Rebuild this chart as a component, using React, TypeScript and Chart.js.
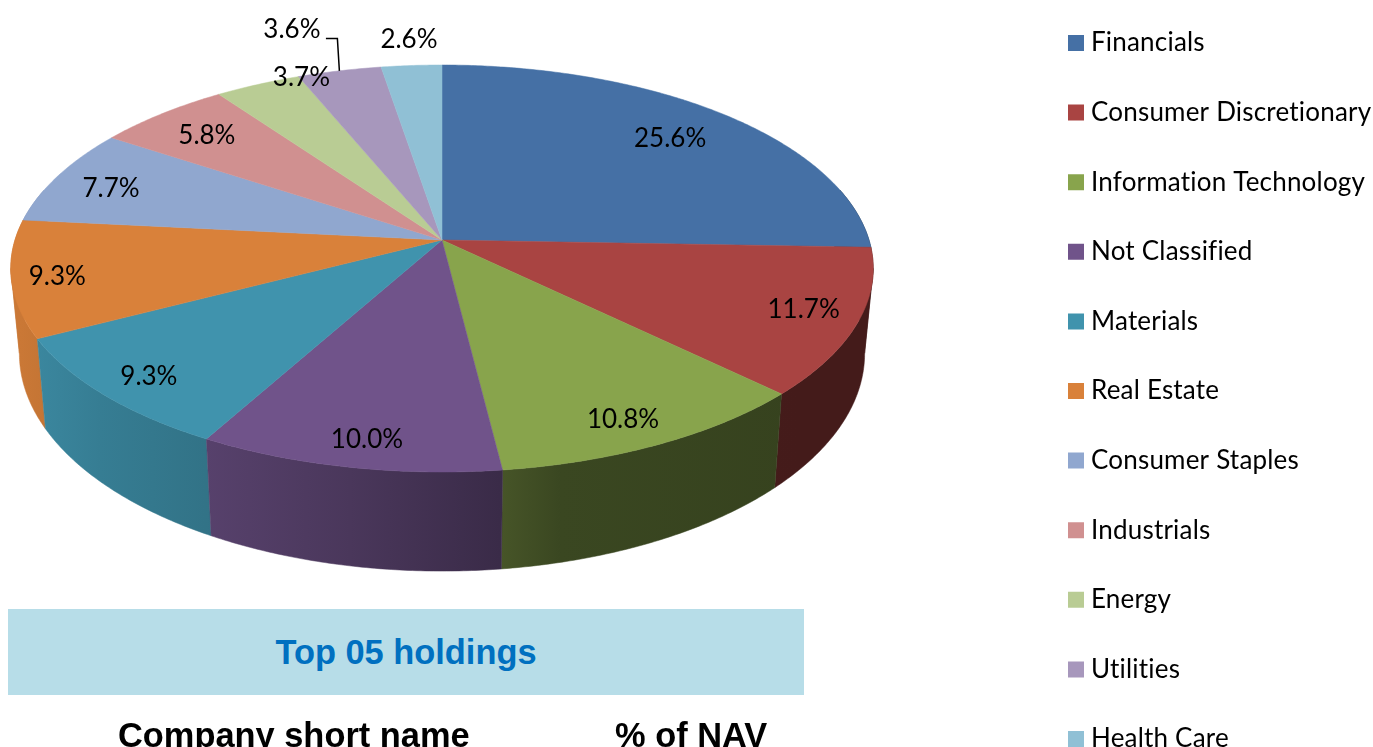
import React, { useEffect, useRef } from "react";
import { Chart, registerables } from "chart.js";

Chart.register(...registerables);

const categories = ["Financials", "Consumer Discretionary", "Information Technology", "Not Classified", "Materials", "Real Estate", "Consumer Staples", "Industrials", "Energy", "Utilities", "Health Care"];
const navShare = [25.6, 11.7, 10.8, 10.0, 9.3, 9.3, 7.7, 5.8, 3.7, 3.6, 2.6];
const sliceColors = ["#4570A5", "#A94442", "#88A44C", "#70538A", "#4093AD", "#D9813A", "#90A7CF", "#D09090", "#B9CC94", "#A797BC", "#90C0D5"];
const tableTitle = "Top 05 holdings";
const tableHeaders = ["Company short name", "% of NAV"];

// Perspective of the tilted disc
const CX = 442, CY = 240, RX = 427, RY = 199.5, K = 0.14;
const LABEL_RADIUS = 0.8;
const LABEL_FONT = "Lato, sans-serif";
// Placement of the data labels relative to their default spot on the slice's mid angle
const labelNudge = [[0, 1], [33, 4], [12, 21], [-2, 24], [-28, 16], [-42, 6], [-21, 0], [-7, -2], [10, -35], [-66, -72], [-8, -57]];
const LEADER_INDEX = 9;

const project = (a: number, f = 1) => {
  const u = f * Math.sin(a), v = -f * Math.cos(a), d = 1 - K * v;
  return { x: CX + (RX * u) / d, y: CY + (RY * v) / d };
};
const lower = (p: { x: number; y: number }) => ({
  x: CX + 0.98 * (p.x - CX),
  y: p.y + 90 + (p.y - 340) * 0.069,
});
const shadeStops = [[20, 0.93], [100, 0.85], [205, 0.78], [350, 0.66], [500, 0.52], [560, 0.43], [800, 0.4], [880, 0.4]];
const darken = (hex: string, s: number) => {
  const n = parseInt(hex.slice(1), 16);
  return `rgb(${Math.round((n >> 16) * s)},${Math.round(((n >> 8) & 255) * s)},${Math.round((n & 255) * s)})`;
};

const pie3d = {
  id: "pie3d",
  beforeDatasetDraw: () => false,
  beforeDraw(chart: any) {
    chart.ctx.letterSpacing = "0.2px";
  },
  afterLayout(chart: any) {
    const l = chart.legend;
    const pad = chart.options.plugins.legend.labels.padding;
    l.left = 1074 - pad;
    l.right = 1373;
    l.top = 43 - 13 - pad;
  },
  afterDatasetsDraw(chart: any) {
    const ctx = chart.ctx;
    const arcs = chart.getDatasetMeta(0).data;
    const D = Math.PI / 180;
    const walls: any[] = [];
    // The disc's outline folds at these angles, so each wall is cut there
    const folds = [75, 98, 262, 285].map((d) => d * D);
    arcs.forEach((arc: any, i: number) => {
      const a0 = arc.startAngle + Math.PI / 2, a1 = arc.endAngle + Math.PI / 2;
      for (let n = 0; n < 3; n++) {
        const lo = Math.max(a0, folds[n]), hi = Math.min(a1, folds[n + 1]);
        if (hi > lo) walls.push({ lo, hi, i });
      }
    });
    walls.sort((s, t) => Math.abs((t.lo + t.hi) / 2 - Math.PI) - Math.abs((s.lo + s.hi) / 2 - Math.PI));
    ctx.save();
    ctx.letterSpacing = "0px";
    for (const w of walls) {
      const top: any[] = [];
      for (let a = w.lo; a < w.hi; a += D / 2) top.push(project(a));
      top.push(project(w.hi));
      const g = ctx.createLinearGradient(20, 0, 880, 0);
      for (const [x, s] of shadeStops) g.addColorStop((x - 20) / 860, darken(sliceColors[w.i], s));
      ctx.fillStyle = g;
      ctx.strokeStyle = g;
      ctx.lineWidth = 0.5;
      ctx.beginPath();
      top.forEach((p, n) => (n ? ctx.lineTo(p.x, p.y) : ctx.moveTo(p.x, p.y)));
      for (let n = top.length - 1; n >= 0; n--) {
        const q = lower(top[n]);
        ctx.lineTo(q.x, q.y);
      }
      ctx.closePath();
      ctx.fill();
      ctx.stroke();
    }
    arcs.forEach((arc: any, i: number) => {
      const a0 = arc.startAngle + Math.PI / 2, a1 = arc.endAngle + Math.PI / 2;
      ctx.fillStyle = sliceColors[i];
      ctx.strokeStyle = sliceColors[i];
      ctx.lineWidth = 0.5;
      ctx.beginPath();
      ctx.moveTo(CX, CY);
      for (let a = a0; a < a1; a += D / 2) {
        const p = project(a);
        ctx.lineTo(p.x, p.y);
      }
      const e = project(a1);
      ctx.lineTo(e.x, e.y);
      ctx.closePath();
      ctx.fill();
      ctx.stroke();
    });
    ctx.fillStyle = "#000";
    ctx.font = `26px ${LABEL_FONT}`;
    ctx.textAlign = "center";
    ctx.textBaseline = "middle";
    arcs.forEach((arc: any, i: number) => {
      const mid = (arc.startAngle + arc.endAngle) / 2 + Math.PI / 2;
      const p = project(mid, LABEL_RADIUS);
      const x = p.x + labelNudge[i][0], y = p.y + labelNudge[i][1];
      ctx.fillText(navShare[i].toFixed(1) + "%", x, y);
      if (i === LEADER_INDEX) {
        const r = project(mid);
        ctx.strokeStyle = "#000";
        ctx.lineWidth = 1.5;
        ctx.beginPath();
        ctx.moveTo(x + 34, y + 9);
        ctx.lineTo(r.x - 2, y + 9);
        ctx.lineTo(r.x, r.y);
        ctx.stroke();
      }
    });
    ctx.restore();
    ctx.letterSpacing = "0.2px";
  },
};

export default function App() {
  const ref = useRef<HTMLCanvasElement>(null);
  useEffect(() => {
    const chart = new Chart(ref.current!, {
      type: "pie",
      data: {
        labels: categories,
        datasets: [{ data: navShare, backgroundColor: sliceColors, borderWidth: 0 }],
      },
      options: {
        animation: false,
        responsive: false,
        plugins: {
          tooltip: { enabled: false },
          legend: {
            position: "right",
            align: "start",
            labels: {
              font: { family: LABEL_FONT, size: 26, lineHeight: 1.2 },
              color: "#000",
              boxWidth: 4,
              boxHeight: 4,
              padding: 43.6,
              generateLabels: () =>
                categories.map((text, i) => ({
                  text,
                  fillStyle: sliceColors[i],
                  strokeStyle: sliceColors[i],
                  lineWidth: 12,
                  hidden: false,
                  index: i,
                })),
            },
          },
        },
      } as any,
      plugins: [pie3d as any],
    });
    return () => chart.destroy();
  }, []);

  const head: React.CSSProperties = {
    position: "absolute",
    font: "bold 34.4px/40px 'Liberation Sans', Arial, sans-serif",
    color: "#000",
    whiteSpace: "nowrap",
  };
  return (
    <div style={{ position: "fixed", inset: 0, overflow: "hidden", background: "#fff" }}>
      <canvas ref={ref} width={1373} height={900} style={{ position: "absolute", left: 0, top: 0, display: "block" }} />
      <div style={{ position: "absolute", left: 8, top: 609, width: 796, height: 86, background: "#B7DDE8" }} />
      <div style={{ ...head, left: 8, width: 796, top: 631.5, textAlign: "center", color: "#0070C0" }}>{tableTitle}</div>
      <div style={{ ...head, left: 118, top: 714.5 }}>{tableHeaders[0]}</div>
      <div style={{ ...head, left: 615, top: 714.5 }}>{tableHeaders[1]}</div>
    </div>
  );
}
